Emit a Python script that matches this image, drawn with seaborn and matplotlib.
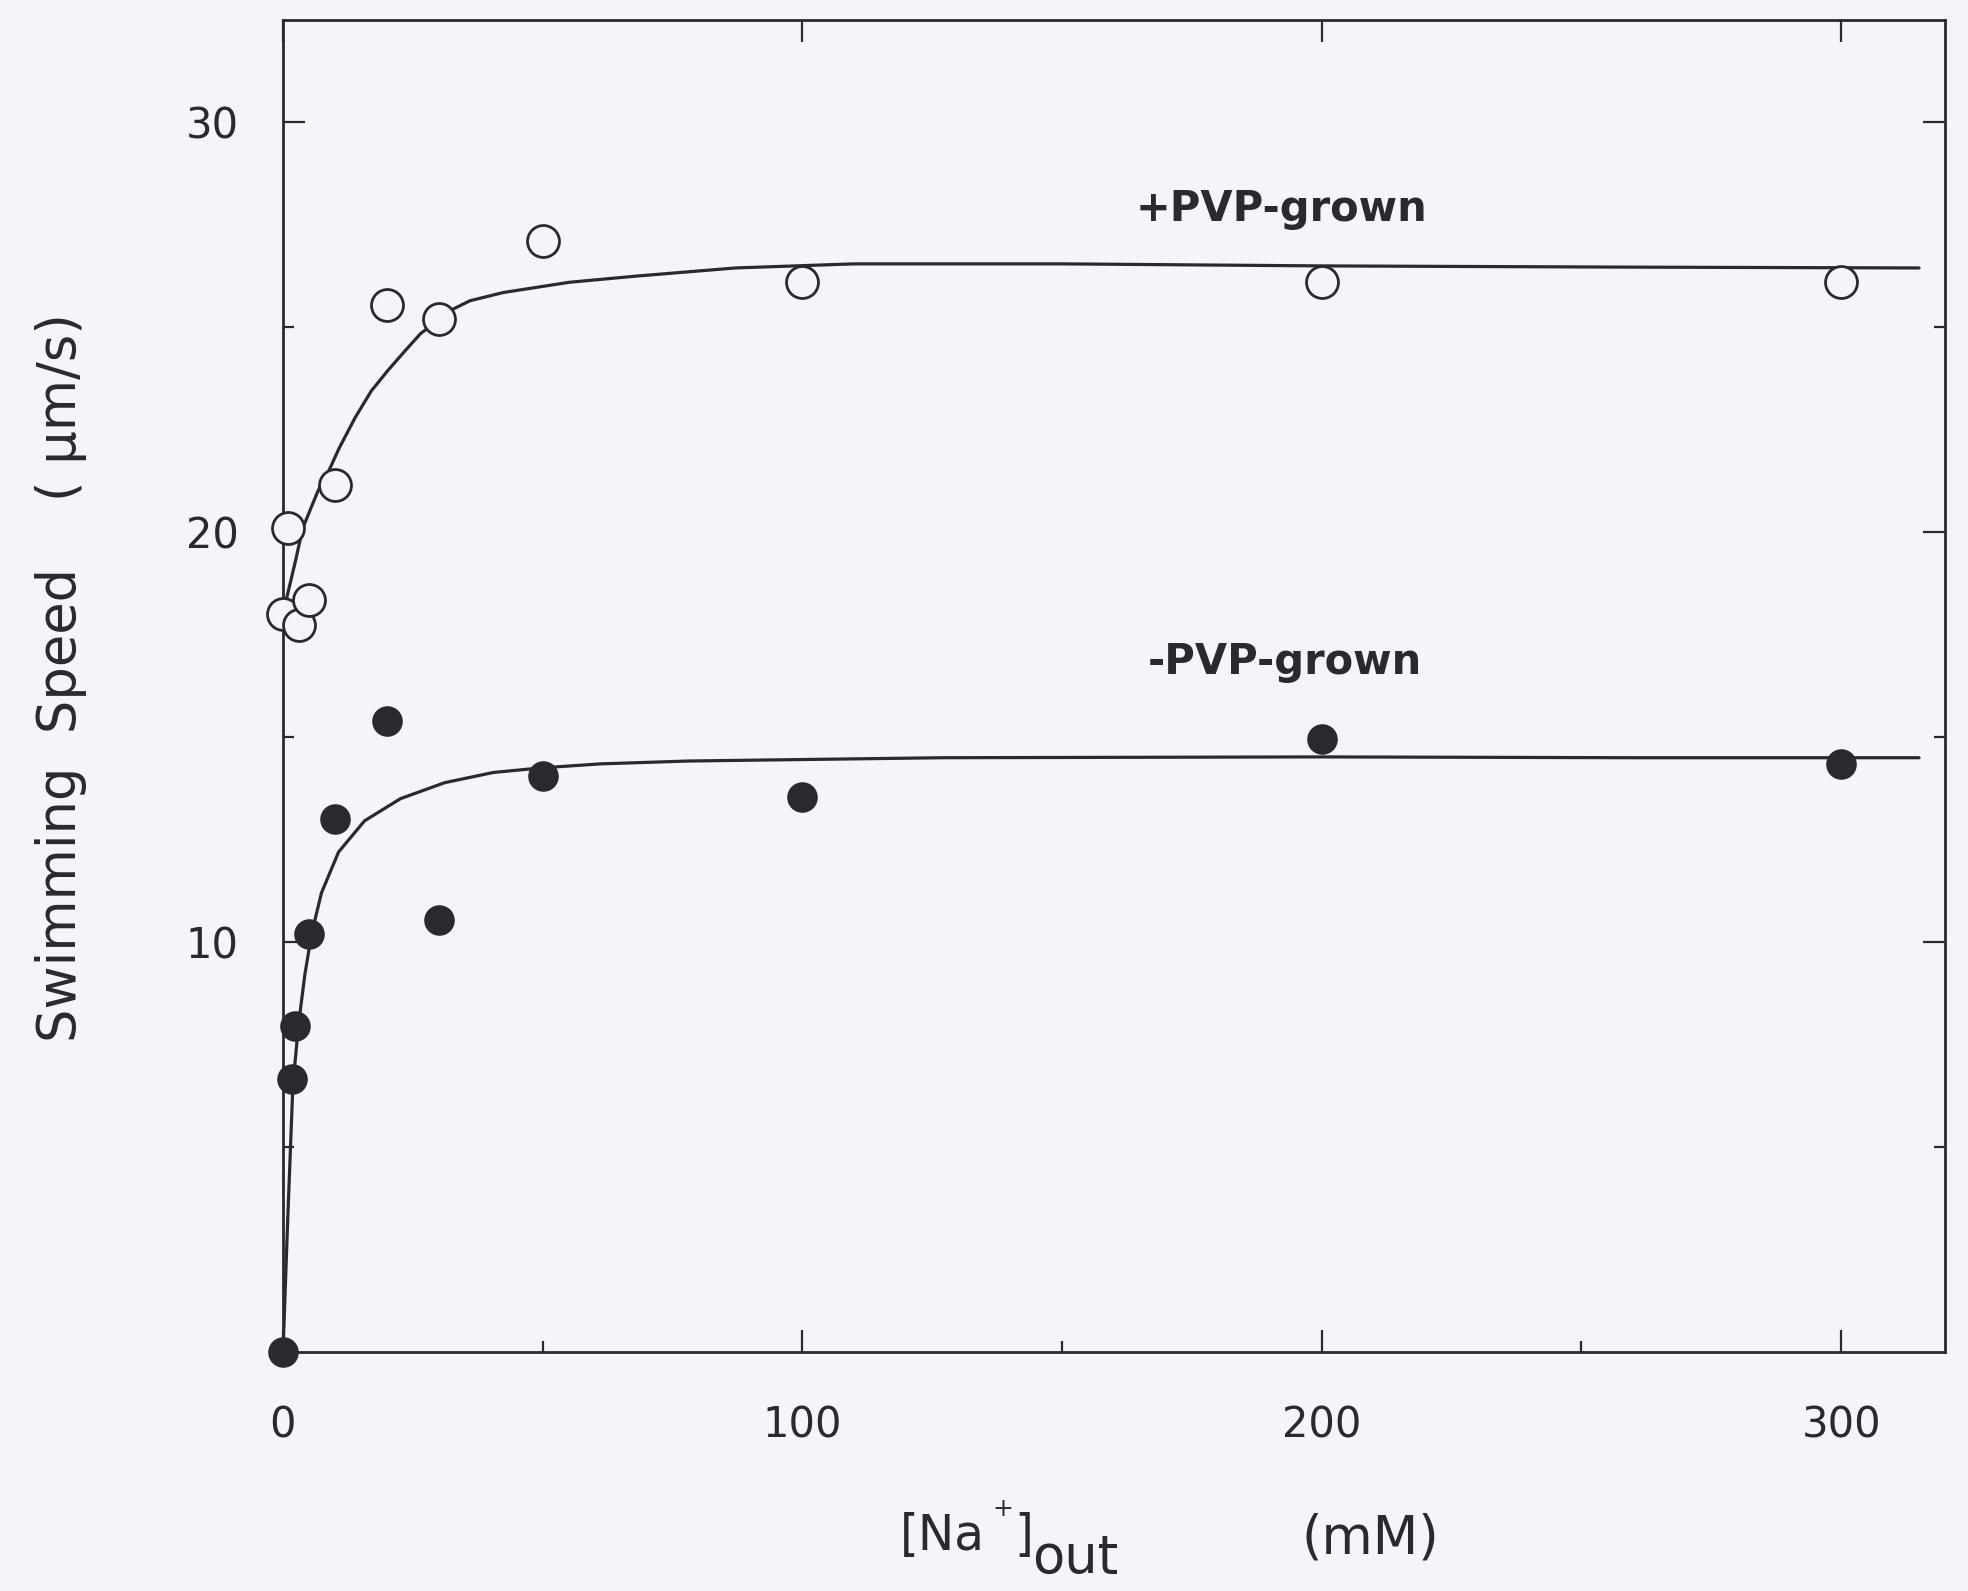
import matplotlib
matplotlib.use("Agg")
import matplotlib.pyplot as plt
import seaborn as sns
from matplotlib.ticker import FixedLocator

# Measured swimming speeds (um/s) vs external Na+ (mM)
na_plus = [0, 1, 3, 5, 10, 20, 30, 50, 100, 200, 300]
speed_plus = [18.0, 20.1, 17.75, 18.35, 21.15, 25.55, 25.2, 27.1, 26.1, 26.1, 26.1]

na_minus = [0, 1.7, 2.3, 5, 10, 20, 30, 50, 100, 200, 300]
speed_minus = [0.0, 6.65, 7.95, 10.2, 13.0, 15.4, 10.55, 14.05, 13.55, 14.95, 14.35]

# Hand-drawn saturation curves through each data set
fit_na_plus = [0, 0.9, 2.4, 3.8, 6.7, 9.0, 10.8, 13.9, 17.0, 20.2, 23.3, 26.5,
               32.8, 36.0, 42.4, 55.1, 67.9, 87.1, 110, 150, 200, 260, 315]
fit_speed_plus = [18.0, 18.5, 19.3, 20.1, 21.0, 21.55, 22.05, 22.8, 23.45, 23.95,
                  24.4, 24.85, 25.45, 25.65, 25.85, 26.1, 26.25, 26.45, 26.55,
                  26.55, 26.5, 26.47, 26.45]

fit_na_minus = [0, 0.9, 1.9, 3.0, 4.2, 5.5, 7.4, 10.7, 15.7, 22.6, 31.1, 40.5,
                49.5, 61.1, 78.2, 127, 200, 260, 315]
fit_speed_minus = [0.0, 3.2, 6.5, 8.0, 9.2, 10.2, 11.2, 12.2, 12.96, 13.5, 13.89,
                   14.14, 14.25, 14.35, 14.42, 14.5, 14.52, 14.5, 14.5]

x_major = [0, 100, 200, 300]
x_minor = [50, 150, 250]
y_major = [10, 20, 30]
y_minor = [5, 15, 25]

sns.set_theme(style="ticks")
plt.rcParams["font.family"] = ["DejaVu Sans"]

INK = "#2c2830"
PAPER = "#f5f4f8"

W, H = 1968, 1591
fig = plt.figure(figsize=(W / 100, H / 100), dpi=100, facecolor=PAPER)
ax = fig.add_axes([283 / W, 239 / H, 1662 / W, 1332 / H])
ax.set_facecolor(PAPER)

# fitted curves
sns.lineplot(x=fit_na_plus, y=fit_speed_plus, ax=ax, color=INK, linewidth=2.3,
             sort=False, estimator=None, zorder=2)
sns.lineplot(x=fit_na_minus, y=fit_speed_minus, ax=ax, color=INK, linewidth=2.3,
             sort=False, estimator=None, zorder=2)

# data points: open circles (+PVP), filled circles (-PVP)
sns.scatterplot(x=na_plus, y=speed_plus, ax=ax, marker="o", s=23 ** 2,
                color=PAPER, edgecolor=INK, linewidth=2.0, zorder=3, clip_on=False)
sns.scatterplot(x=na_minus, y=speed_minus, ax=ax, marker="o", s=21 ** 2,
                color=INK, edgecolor=INK, linewidth=1.0, zorder=3, clip_on=False)

ax.set_xlim(0, 320)
ax.set_ylim(0, 32.5)

ax.xaxis.set_major_locator(FixedLocator(x_major))
ax.xaxis.set_minor_locator(FixedLocator(x_minor))
ax.yaxis.set_major_locator(FixedLocator(y_major))
ax.yaxis.set_minor_locator(FixedLocator(y_minor))
ax.set_xticklabels([str(v) for v in x_major])
ax.set_yticklabels([str(v) for v in y_major])

ax.tick_params(which="both", direction="in", color=INK, width=1.6,
               top=True, right=True, labelcolor=INK, labelsize=30)
ax.tick_params(which="major", length=16)
ax.tick_params(which="minor", length=8, top=False)
ax.tick_params(axis="x", which="major", pad=38)
ax.tick_params(axis="y", which="major", pad=32)

for sp in ax.spines.values():
    sp.set_visible(True)
    sp.set_color(INK)
    sp.set_linewidth(2.0)

ax.set_xlabel("")
ax.set_ylabel("Swimming  Speed    ( μm/s)", fontsize=38, color=INK)
ax.yaxis.set_label_coords(-0.118, 0.506)

# series labels
ax.text(164.2, 27.9, "+PVP-grown", fontsize=30, fontweight="bold",
        color=INK, ha="left", va="center")
ax.text(166.5, 16.83, "-PVP-grown", fontsize=30, fontweight="bold",
        color=INK, ha="left", va="center")

# x-axis title: [Na+]out (mM)
def ftxt(x, y, s, size, **kw):
    fig.text(x / W, 1 - y / H, s, fontsize=size, color=INK, va="baseline", **kw)

ftxt(900, 1550, "[Na", 35)
ftxt(992, 1516, "+", 18)
ftxt(1014, 1550, "]", 35)
ftxt(1032, 1574, "out", 38)
ftxt(1302, 1553, "(mM)", 38)

fig.savefig("out.png", dpi=100, facecolor=PAPER)
